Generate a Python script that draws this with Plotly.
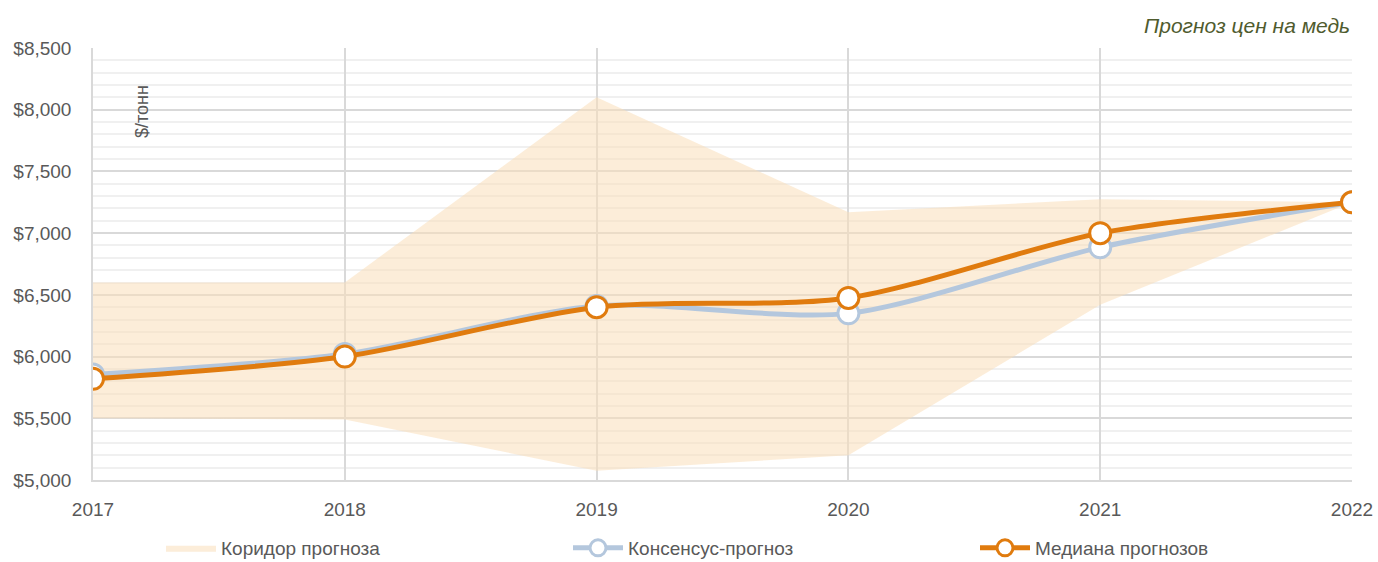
import plotly.graph_objects as go

years = [2017, 2018, 2019, 2020, 2021, 2022]
band_upper = [6600, 6600, 8100, 7170, 7275, 7250]
band_lower = [5500, 5490, 5075, 5200, 6420, 7250]
consensus = [5855, 6020, 6410, 6350, 6885, 7250]
median = [5820, 6000, 6400, 6475, 7000, 7250]

FONT = "Liberation Sans, Arial, sans-serif"
TICK_COLOR = "#595959"
ORANGE = "#E07B0E"
BLUE = "#B4C7DD"

W, H = 1378, 562
ML, MR, MT, MB = 93, 26, 48, 82
PW = W - ML - MR
PH = H - MT - MB

fig = go.Figure()
fig.add_trace(go.Scatter(x=years, y=band_lower, mode="lines", line=dict(width=0),
                         showlegend=False, hoverinfo="skip"))
fig.add_trace(go.Scatter(x=years, y=band_upper, mode="lines", line=dict(width=0),
                         fill="tonexty", fillcolor="rgba(250,222,186,0.55)",
                         name="Коридор прогноза"))
fig.add_trace(go.Scatter(x=years, y=consensus, mode="lines+markers",
                         line=dict(color=BLUE, width=5, shape="spline", smoothing=0.8),
                         marker=dict(size=21, color="white", line=dict(color=BLUE, width=3)),
                         name="Консенсус-прогноз"))
fig.add_trace(go.Scatter(x=years, y=median, mode="lines+markers",
                         line=dict(color=ORANGE, width=5, shape="spline", smoothing=0.8),
                         marker=dict(size=21, color="white", line=dict(color=ORANGE, width=3)),
                         name="Медиана прогнозов"))

fig.update_layout(
    width=W, height=H,
    margin=dict(l=ML, r=MR, t=MT, b=MB, autoexpand=False),
    paper_bgcolor="white", plot_bgcolor="white",
    font=dict(family=FONT, size=19, color=TICK_COLOR),
    showlegend=True,
    legend=dict(orientation="h", x=(161 - 93) / PW, y=-(567 - 480) / PH, xanchor="left", yanchor="bottom",
                traceorder="normal",
                entrywidth=342, entrywidthmode="pixels",
                font=dict(family=FONT, size=19, color=TICK_COLOR),
                itemwidth=50, tracegroupgap=0, bgcolor="rgba(0,0,0,0)"),
    xaxis=dict(range=[2017, 2022], tickmode="array", tickvals=years,
               ticktext=[str(y) for y in years], automargin=False,
               ticklabelstandoff=11, ticklabeloverflow="allow",
               showgrid=True, gridcolor="#D9D9D9", gridwidth=1.5,
               showline=True, linecolor="#D9D9D9", linewidth=1.5,
               zeroline=False, ticks="", ticklen=0,
               tickfont=dict(family=FONT, size=19, color=TICK_COLOR)),
    yaxis=dict(range=[5000, 8500], dtick=500, tick0=5000, automargin=False,
               tickprefix="$", tickformat=",d", ticklabelstandoff=16,
               showgrid=True, gridcolor="#D9D9D9", gridwidth=1.5,
               minor=dict(dtick=100, showgrid=True, gridcolor="#F0F0F0", gridwidth=1.5),
               showline=True, linecolor="#D9D9D9", linewidth=1.5,
               zeroline=False, ticks="", ticklen=0,
               tickfont=dict(family=FONT, size=19, color=TICK_COLOR)),
    annotations=[
        dict(text="Прогноз цен на медь", xref="paper", yref="paper", x=1.0, y=1.0,
             xanchor="right", yanchor="middle", yshift=23, showarrow=False,
             font=dict(family=FONT, size=21, color="#4F5B2E", style="italic")),
        dict(text="$/тонн", xref="paper", yref="paper", x=(142 - 93) / PW, y=(480 - 112) / PH,
             xanchor="center", yanchor="middle", textangle=-90, showarrow=False,
             font=dict(family=FONT, size=18, color=TICK_COLOR)),
    ],
)

fig.write_html(
    "out.html",
    config={"displayModeBar": False},
    post_script="document.body.style.margin='0';document.documentElement.style.overflow='hidden';document.body.style.overflow='hidden';",
)
